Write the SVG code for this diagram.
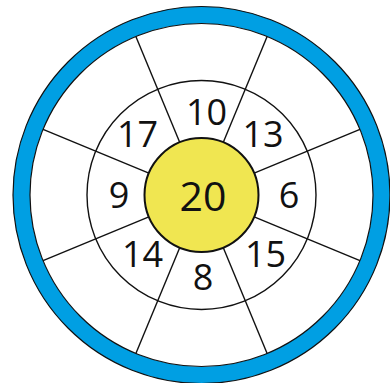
<svg xmlns="http://www.w3.org/2000/svg" width="390" height="383" viewBox="0 0 390 383">
<style>
.t{font-family:"Open Sans","DejaVu Sans",sans-serif;font-size:36px;fill:#111;text-anchor:middle}
.sp{stroke:#111;stroke-width:1.4;fill:none}
</style>
<rect width="390" height="383" fill="#fff"/>
<g id="ring">
<circle cx="201.5" cy="195" r="180" fill="none" stroke="#009FE3" stroke-width="17"/>
<circle cx="201.5" cy="195" r="188.5" fill="none" stroke="#111" stroke-width="1.2"/>
<circle cx="201.5" cy="195" r="171.5" fill="#fff" stroke="#111" stroke-width="1.2"/>
<circle cx="201.5" cy="195" r="114.5" fill="none" stroke="#111" stroke-width="1.4"/>
</g>
<g id="connectors">
<line class="sp" x1="254.16" y1="216.81" x2="359.95" y2="260.63"/>
<line class="sp" x1="223.31" y1="247.66" x2="267.13" y2="353.45"/>
<line class="sp" x1="179.69" y1="247.66" x2="135.87" y2="353.45"/>
<line class="sp" x1="148.84" y1="216.81" x2="43.05" y2="260.63"/>
<line class="sp" x1="148.84" y1="173.19" x2="43.05" y2="129.37"/>
<line class="sp" x1="179.69" y1="142.34" x2="135.87" y2="36.55"/>
<line class="sp" x1="223.31" y1="142.34" x2="267.13" y2="36.55"/>
<line class="sp" x1="254.16" y1="173.19" x2="359.95" y2="129.37"/>
</g>
<g id="center">
<circle cx="201.5" cy="195" r="57" fill="#F0E651" stroke="#111" stroke-width="2"/>
<text class="t" x="203" y="210.5" style="font-size:41px">20</text>
</g>
<g id="n10"><text class="t" x="206.5" y="125">10</text></g>
<g id="n13"><text class="t" x="263" y="147">13</text></g>
<g id="n6"><text class="t" x="289" y="208">6</text></g>
<g id="n15"><text class="t" x="265.5" y="266.5">15</text></g>
<g id="n8"><text class="t" x="203" y="290">8</text></g>
<g id="n14"><text class="t" x="142.5" y="266.5">14</text></g>
<g id="n9"><text class="t" x="119" y="208">9</text></g>
<g id="n17"><text class="t" x="137.5" y="147">17</text></g>
</svg>
